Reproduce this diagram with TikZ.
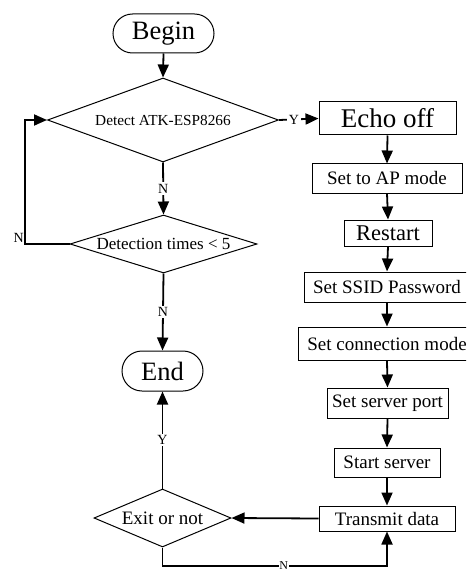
\documentclass[tikz,border=0pt]{standalone}
\usepackage{fontspec}
\setmainfont{Liberation Serif}
\usetikzlibrary{shapes.geometric,arrows.meta}
\tikzset{
  box/.style={draw,line width=1pt,rectangle,inner sep=0pt,font=\fontsize{19pt}{22pt}\selectfont},
  term/.style={draw,line width=1pt,rectangle,rounded corners=19.5pt,inner sep=0pt,font=\fontsize{26.5pt}{30pt}\selectfont},
  dia/.style={draw,line width=1pt,diamond,inner sep=0pt},
  conn/.style={line width=1.8pt,-{Triangle[length=13pt,width=11pt]}},
  lbl/.style={fill=white,inner sep=1.5pt,font=\fontsize{14pt}{16pt}\selectfont}
}
\begin{document}
\begin{tikzpicture}[x=1pt,y=-1pt]
\useasboundingbox (0,0) rectangle (466,572);
\clip (0,0) rectangle (466,572);
% left column
\node[term,minimum width=101pt,minimum height=39pt] (begin) at (163.5,33.5) {Begin};
\node[dia,minimum width=231pt,minimum height=84pt,aspect=2.75,font=\fontsize{15.3pt}{18pt}\selectfont] (d1) at (163,120) {\makebox[0pt]{Detect ATK-ESP8266}};
\node[dia,minimum width=187pt,minimum height=58pt,aspect=3.2,font=\fontsize{17pt}{20pt}\selectfont] (d2) at (163.5,244) {\makebox[0pt]{Detection times < 5}};
\node[term,minimum width=81pt,minimum height=40pt,rounded corners=20pt] (end) at (162.5,371) {End};
\node[dia,minimum width=137pt,minimum height=58pt,aspect=2.36,font=\fontsize{19pt}{22pt}\selectfont] (d3) at (162.5,518) {\makebox[0pt]{Exit or not}};
% right column
\node[box,minimum width=137pt,minimum height=33pt,font=\fontsize{27pt}{30pt}\selectfont] (echo) at (387.5,118.5) {Echo off};
\node[box,minimum width=150pt,minimum height=29pt] (ap) at (387,178.5) {Set to AP mode};
\node[box,minimum width=88pt,minimum height=26pt,font=\fontsize{22.5pt}{25pt}\selectfont] (restart) at (388,233) {Restart};
\node[box,minimum width=166pt,minimum height=30pt] (ssid) at (387,287) {Set SSID Password};
\node[box,minimum width=178pt,minimum height=33pt] (connm) at (387,343.5) {Set connection mode};
\node[box,minimum width=121pt,minimum height=30pt] (port) at (387.5,403) {Set server port};
\node[box,minimum width=106pt,minimum height=29pt] (start) at (387,462.5) {Start server};
\node[box,minimum width=136pt,minimum height=25pt] (trans) at (387,518.5) {Transmit data};
% helper coordinates
\coordinate (lt) at (25,120);
\coordinate (lb) at (25,244);
\coordinate (bl) at (162.5,566);
\coordinate (br) at (387,566);
% connectors
\draw[conn] (begin.south) -- (d1.north);
\draw[conn] (d1.east) -- node[lbl,pos=0.38]{Y} (echo.west);
\draw[conn] (echo.south) -- (ap.north);
\draw[conn] (ap.south) -- (restart.north);
\draw[conn] (restart.south) -- (ssid.north);
\draw[conn] (ssid.south) -- (connm.north);
\draw[conn] (connm.south) -- (port.north);
\draw[conn] (port.south) -- (start.north);
\draw[conn] (start.south) -- (trans.north);
\draw[conn] (d1.south) -- node[lbl]{N} (d2.north);
\draw[conn] (d2.south) -- node[lbl]{N} (end.north);
\draw[conn] (d2.west) -- (lb) -- (lt) -- (d1.west);
\node[lbl,fill=none,anchor=south east,inner sep=1pt] (nl) at (lb) {N};
\draw[conn] (trans.west) -- (d3.east);
\draw[conn] (d3.north) -- node[lbl]{Y} (end.south);
\draw[conn] (d3.south) -- (bl) -- node[lbl,pos=0.54,inner sep=0.8pt,font=\fontsize{12pt}{13pt}\selectfont]{N} (br) -- (trans.south);
\end{tikzpicture}
\end{document}
